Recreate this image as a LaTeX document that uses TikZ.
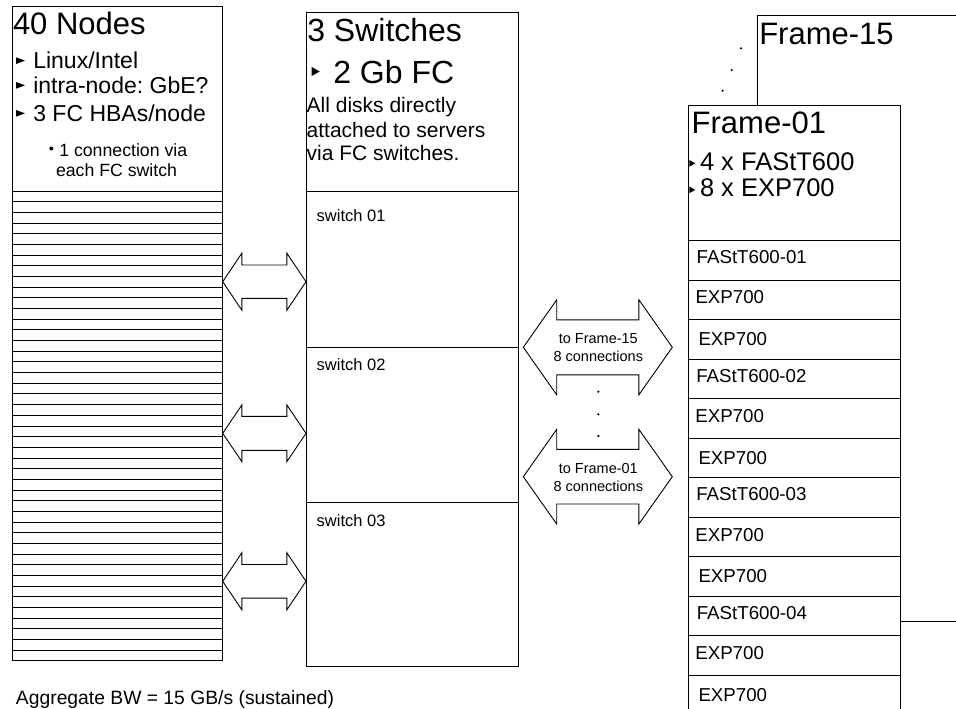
\documentclass[tikz,border=0pt]{standalone}
\usepackage{fontspec}
\setmainfont{Liberation Sans}
\usetikzlibrary{calc}
\frenchspacing
\newcommand\fsz[1]{\fontsize{#1}{#1}\selectfont}
\newcommand\dblarr[6]{% x1 x2 cy headlen headhalf shafthalf
  \draw[fill=white] ({#1},{#3}) -- ({#1+#4},{#3-#5}) -- ({#1+#4},{#3-#6}) -- ({#2-#4},{#3-#6}) -- ({#2-#4},{#3-#5}) -- ({#2},{#3}) -- ({#2-#4},{#3+#5}) -- ({#2-#4},{#3+#6}) -- ({#1+#4},{#3+#6}) -- ({#1+#4},{#3+#5}) -- cycle;}
\newcommand\tri[4]{% x ytop width height
  \fill ({#1},{#2}) -- ({#1+#3},{#2+#4/2}) -- ({#1},{#2+#4}) -- cycle;}
\begin{document}
\begin{tikzpicture}[x=1pt,y=-1pt,line width=0.9pt,
  box/.style={draw=black,fill=white,anchor=north west,inner sep=0pt,outer sep=0pt},
  txt/.style={anchor=base west,inner sep=0pt,outer sep=0pt,font=\frenchspacing},
  ctxt/.style={anchor=base,inner sep=0pt,outer sep=0pt}]
\useasboundingbox (0,0) rectangle (956,709);
\clip (0,0) rectangle (956,709);
\fill[white] (0,0) rectangle (956,709);

% ---------- left: 40 nodes ----------
\node[box,minimum width=210pt,minimum height=185pt] (nodes) at (12,6) {};
\foreach \k in {0,...,43}
  \node[box,minimum width=210pt,minimum height=10.68pt] (n\k) at ({12},{191+10.68*\k}) {};
\node[txt] (t40) at (13,35) {\fsz{31}40 Nodes};
\tri{16}{57.3}{9}{6.7}
\node[txt] (tl1) at (33.3,68.5) {\fsz{23}Linux/Intel};
\tri{16}{82}{9}{6.7}
\node[txt] (tl2) at (33.3,93.5) {\fsz{23}intra-node: GbE?};
\tri{16}{110}{9}{6.7}
\node[txt] (tl3) at (33.3,121.5) {\fsz{23}3 FC HBAs/node};
\fill (51.3,148.5) circle (2);
\node[txt] (tl4) at (59.3,156) {\fsz{17.7}1 connection via};
\node[txt] (tl5) at (56,176.5) {\fsz{17.7}each FC switch};

% ---------- middle: switches ----------
\node[box,minimum width=211.3pt,minimum height=179pt] (swh) at (306.7,12.7) {};
\node[box,minimum width=211.3pt,minimum height=155.6pt] (sw1) at (306.7,191.7) {};
\node[box,minimum width=211.3pt,minimum height=155.4pt] (sw2) at (306.7,347.3) {};
\node[box,minimum width=211.3pt,minimum height=164pt] (sw3) at (306.7,502.7) {};
\node[txt] (ts) at (307.3,41.7) {\fsz{32}3 Switches};
\tri{311.7}{67}{8}{9}
\node[txt] (tfc) at (333.3,84) {\fsz{32}2 Gb FC};
\node[txt] (ta1) at (306.7,112.7) {\fsz{21}All disks directly};
\node[txt] (ta2) at (306.7,137) {\fsz{21}attached to servers};
\node[txt] (ta3) at (306.7,160.7) {\fsz{21}via FC switches.};
\node[txt] (ts1) at (316.7,221.7) {\fsz{16.5}switch 01};
\node[txt] (ts2) at (316.7,370) {\fsz{16.5}switch 02};
\node[txt] (ts3) at (316.7,526) {\fsz{16.5}switch 03};

% ---------- left double arrows ----------
\dblarr{222.7}{306}{281.7}{19.2}{28.6}{16.7}
\dblarr{222.7}{306}{433.3}{19.2}{28.4}{17}
\dblarr{222.7}{306}{581.3}{19.2}{28.6}{16.8}

% ---------- right double arrows ----------
\dblarr{523.3}{672.3}{347.3}{33.4}{47.5}{27.5}
\dblarr{523.3}{672.3}{476.7}{33.4}{47.3}{27.3}
\node[ctxt] (tr1) at (598.3,343.3) {\fsz{14.5}to Frame-15};
\node[ctxt] (tr2) at (598.3,361.7) {\fsz{14.5}8 connections};
\node[ctxt] (tr3) at (598.3,473.3) {\fsz{14.5}to Frame-01};
\node[ctxt] (tr4) at (598.3,491.7) {\fsz{14.5}8 connections};
\fill (598.3,391.7) circle (1.2);
\fill (598.3,414.3) circle (1.2);
\fill (598.3,436) circle (1.2);

% ---------- right: frames ----------
\node[box,minimum width=260pt,minimum height=606pt] (f15) at (757.3,15.7) {};
\node[txt] (tf15) at (759.3,45) {\fsz{31}Frame-15};
\fill (741,48.3) circle (1.2);
\fill (731.7,70) circle (1.2);
\fill (722.7,90.7) circle (1.2);

\node[box,minimum width=211.7pt,minimum height=135.7pt] (f01) at (688.3,105) {};
\node[txt] (tf01) at (691.7,133.3) {\fsz{31}Frame-01};
\tri{689.3}{160}{6}{6.7}
\node[txt] (tf1) at (700,170) {\fsz{25.5}4 x FAStT600};
\tri{689.3}{186.5}{6}{6.7}
\node[txt] (tf2) at (700,196.5) {\fsz{25.5}8 x EXP700};

\foreach \k/\lab/\dx/\dy in {0/FAStT600-01/8.4/23, 1/EXP700/7.2/23, 2/EXP700/10.2/26,
  3/FAStT600-02/8/23, 4/EXP700/7/24, 5/EXP700/10.2/26,
  6/FAStT600-03/8/23, 7/EXP700/7/24, 8/EXP700/10.2/26,
  9/FAStT600-04/8.5/23, 10/EXP700/7/24, 11/EXP700/10.2/26}{
  \node[box,minimum width=211.7pt,minimum height=39.5pt] (r\k) at ({688.3},{240.7+39.5*\k}) {};
  \node[txt] (rt\k) at ($(r\k.north west)+(\dx,\dy)$) {\fsz{18.7}\lab};
}

% ---------- bottom text ----------
\node[txt] (agg) at (16,704) {\fsz{19.3}Aggregate BW = 15 GB/s (sustained)};
\end{tikzpicture}
\end{document}
